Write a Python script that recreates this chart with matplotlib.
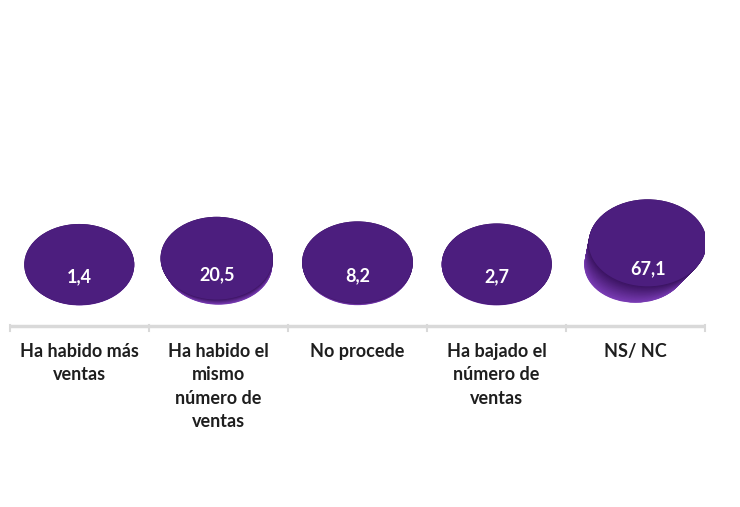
import numpy as np
import matplotlib.pyplot as plt
from matplotlib.patches import Ellipse
from matplotlib.colors import to_rgb

# survey answers and their shares (%)
categories = ["Ha habido más\nventas", "Ha habido el\nmismo\nnúmero de\nventas",
              "No procede", "Ha bajado el\nnúmero de\nventas", "NS/ NC"]
values = [1.4, 20.5, 8.2, 2.7, 67.1]
value_labels = ["1,4", "20,5", "8,2", "2,7", "67,1"]

W, H = 740, 507
fig = plt.figure(figsize=(W / 100, H / 100), dpi=100)
fig.patch.set_facecolor("white")

# axis box: x in category units, y in pixels above the category line
ax = fig.add_axes([10 / W, (H - 326) / H, 695 / W, 206 / H])
ax.set_xlim(-0.5, len(categories) - 0.5)
ax.set_ylim(0, 206)
ax.axis("off")

# floor seen from above: cylinders rise towards the viewer,
# spreading away from the middle of the chart
base_y = 61          # centre of the cylinder foot
rise = 0.33          # vertical shift per percentage point
spread = 0.00065     # horizontal shift per point and per category from centre
grow = 0.0011        # top face growth per percentage point
shrink = 0.0010      # foot shrink per percentage point
ew, eh = 0.79, 81    # ellipse width (categories) and height (px)
mid = (len(categories) - 1) / 2

top_col = np.array(to_rgb("#4c1e7e"))
side_lo = np.array(to_rgb("#7b3db6"))
side_hi = np.array(to_rgb("#3c1463"))

for i, v in enumerate(values):
    steps = max(int(v * 0.8), 1)
    s0 = 1 - shrink * v
    for k in range(steps + 1):
        t = k / steps
        h = v * t
        c = side_lo * (1 - t) + side_hi * t
        s = s0 * (1 - t) + (1 + grow * v) * t
        ax.add_patch(Ellipse((i + spread * h * (i - mid), base_y + rise * h),
                             ew * s, eh * s, facecolor=c, edgecolor="none",
                             zorder=2))
    s = 1 + grow * v
    cx, cy = i + spread * v * (i - mid), base_y + rise * v
    ax.add_patch(Ellipse((cx, cy), ew * s, eh * s, facecolor=top_col,
                         edgecolor="none", zorder=3))
    ax.text(cx, cy - 12 - 0.2 * v, value_labels[i], color="white", fontsize=13,
            fontweight="bold", family="Lato", ha="center", va="center", zorder=4)

# category line with tick marks between groups
ax.plot([-0.5, len(categories) - 0.5], [0, 0], color="#d9d9d9", lw=2.5,
        clip_on=False, zorder=1, solid_capstyle="butt")
for b in np.arange(-0.5, len(categories), 1.0):
    ax.plot([b, b], [1, -5], color="#d9d9d9", lw=1.5, clip_on=False)

for i, lab in enumerate(categories):
    ax.text(i, -17, lab, color="#1e1e1e", fontsize=13, fontweight="bold",
            family="Lato", ha="center", va="top", linespacing=1.45)

fig.savefig("out.png", dpi=100, facecolor="white")
